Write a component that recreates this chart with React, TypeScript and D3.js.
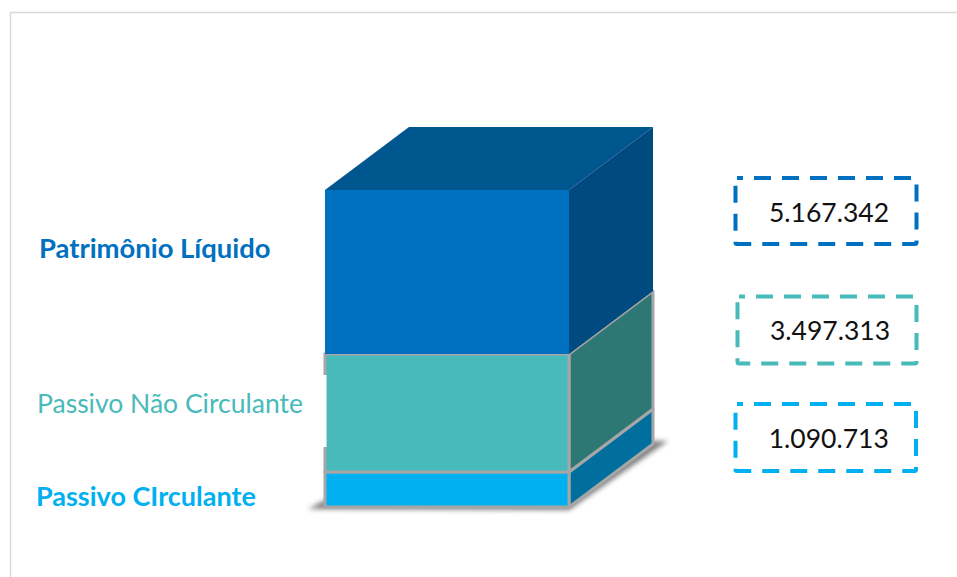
import { useMemo } from 'react'
import * as d3 from 'd3'

const categories = ['Passivo CIrculante', 'Passivo Não Circulante', 'Patrimônio Líquido']
const values = [1090713, 3497313, 5167342]
const valueLabels = ['1.090.713', '3.497.313', '5.167.342']

const frontColors = ['#00b0f0', '#47bab9', '#0070c0']
const sideColors = ['#006f9e', '#2d7775', '#004a80']
const labelWeights = [700, 400, 700]
const TOP_COLOR = '#00568f'
const EDGE = '#a6a6a6'

// the cube in the source is not quite to scale, so the height scale is piecewise
const yStops = [507, 472, 354, 190]
const FRONT_LEFT = 325
const FRONT_RIGHT = 569
const DX = 84
const DY = -63

const labelBoxes = [
  { x: 36, y: 506, size: 27 },
  { x: 37, y: 413, size: 26.5 },
  { x: 39, y: 258, size: 27.4 },
]
const valueBoxes = [
  { x: 735.5, y: 404, w: 180.5, h: 67, textDy: 10.5 },
  { x: 737.5, y: 296.5, w: 179, h: 67, textDy: 10 },
  { x: 735.5, y: 178, w: 181, h: 66, textDy: 10.5 },
]

export default function App() {
  const { stacked, y } = useMemo(() => {
    const row = Object.fromEntries(categories.map((c, i) => [c, values[i]]))
    const stacked = d3.stack<Record<string, number>>().keys(categories)([row])
    const y = d3
      .scaleLinear()
      .domain([0, ...stacked.map((s) => s[0][1])])
      .range(yStops)
    return { stacked, y }
  }, [])

  const polygon = d3.line()
  const top = y(stacked[2][0][1])

  return (
    <svg
      width={957}
      height={577}
      style={{ position: 'absolute', left: 0, top: 0, fontFamily: 'Lato, "Open Sans", sans-serif' }}
    >
      <defs>
        <filter id="cube-shadow" x="-20%" y="-20%" width="140%" height="140%">
          <feGaussianBlur stdDeviation="2.5" />
        </filter>
      </defs>
      <rect width={957} height={577} fill="#ffffff" />
      <path d="M10.5 577V12.5H957" fill="none" stroke="#d9d9d9" strokeWidth={1.5} />

      {/* floor shadow */}
      <path
        d={
          polygon([
            [308, 509],
            [FRONT_LEFT, 500],
            [FRONT_RIGHT + DX, 441],
            [668, 441],
            [FRONT_RIGHT, 510],
          ]) + 'Z'
        }
        fill="#555555"
        opacity={0.75}
        filter="url(#cube-shadow)"
      />

      {/* top face */}
      <path
        d={
          polygon([
            [FRONT_LEFT, top],
            [FRONT_LEFT + DX, top + DY],
            [FRONT_RIGHT + DX, top + DY],
            [FRONT_RIGHT, top],
          ]) + 'Z'
        }
        fill={TOP_COLOR}
      />

      {stacked.map((s, i) => {
        const y0 = y(s[0][0])
        const y1 = y(s[0][1])
        const stroke = i < 2 ? EDGE : 'none'
        return (
          <g key={categories[i]}>
            <path
              d={
                polygon([
                  [FRONT_RIGHT, y0],
                  [FRONT_RIGHT + DX, y0 + DY],
                  [FRONT_RIGHT + DX, y1 + DY],
                  [FRONT_RIGHT, y1],
                ]) + 'Z'
              }
              fill={sideColors[i]}
              stroke={stroke}
              strokeWidth={3}
              strokeLinejoin="round"
            />
            <rect
              x={FRONT_LEFT}
              y={y1}
              width={FRONT_RIGHT - FRONT_LEFT}
              height={y0 - y1}
              fill={frontColors[i]}
              stroke={stroke}
              strokeWidth={3}
            />
          </g>
        )
      })}
      {/* the source image has a gap in the left edge of the middle block */}
      <rect x={323} y={375} width={3.5} height={72} fill="#ffffff" />

      {categories.map((c, i) => (
        <text
          key={c}
          x={labelBoxes[i].x}
          y={labelBoxes[i].y}
          fontSize={labelBoxes[i].size}
          fontWeight={labelWeights[i]}
          fill={frontColors[i]}
        >
          {c}
        </text>
      ))}

      {valueLabels.map((v, i) => {
        const b = valueBoxes[i]
        return (
          <g key={v}>
            <rect
              x={b.x}
              y={b.y}
              width={b.w}
              height={b.h}
              rx={1.5}
              fill="none"
              stroke={frontColors[i]}
              strokeWidth={4}
              strokeDasharray="17 11"
              strokeDashoffset={11}
            />
            <text x={b.x + b.w / 2 + 3} y={b.y + b.h / 2 + b.textDy} fontSize={26.5} fill="#111111" textAnchor="middle">
              {v}
            </text>
          </g>
        )
      })}
    </svg>
  )
}
